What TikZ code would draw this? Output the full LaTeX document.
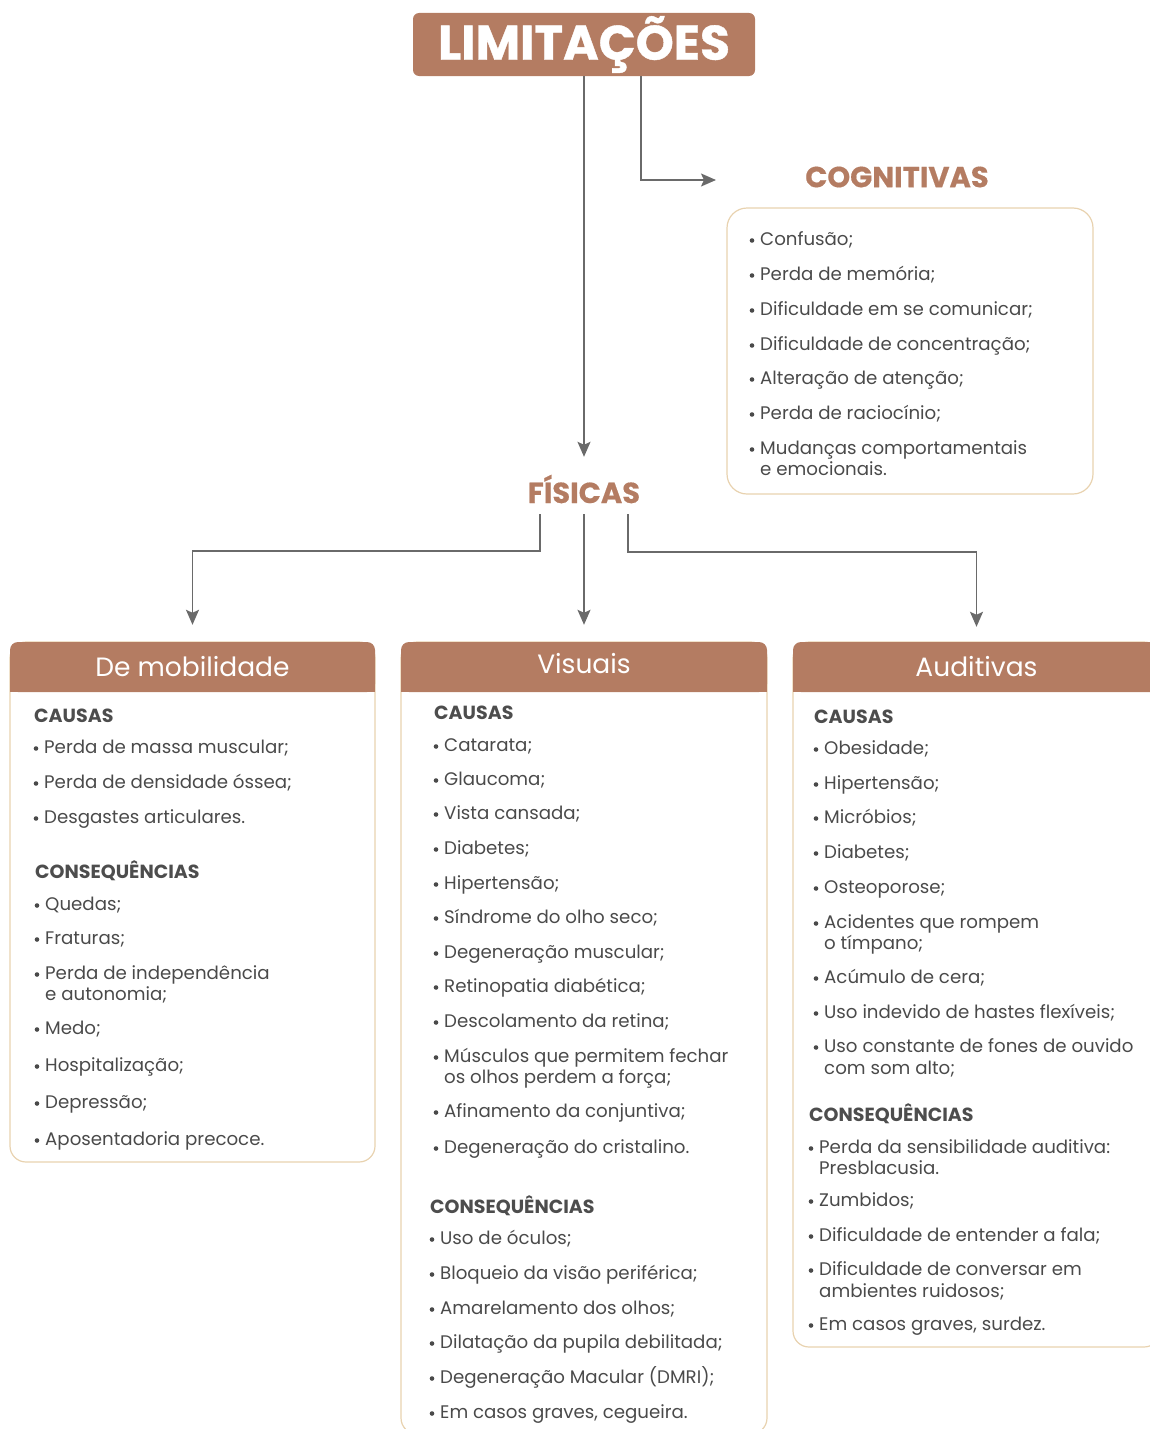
\documentclass[tikz,border=0pt]{standalone}
\usepackage{fontspec}
\setmainfont{Poppins}
\usetikzlibrary{arrows.meta}
\definecolor{brownA}{HTML}{B47C62}
\definecolor{tanA}{HTML}{E8D2AF}
\definecolor{txtA}{HTML}{4A4A4A}
\definecolor{hdA}{HTML}{4D4D4D}
\definecolor{arrA}{HTML}{6A6A6A}
\newcommand\itemlist[3]{%
  \foreach \yy/\itxt/\ibul [count=\ii] in {#3} {
    \node[itm, name=#1\ii] at (#2,\yy+7) {\itxt};
    \ifnum\ibul=1 \fill[txtA] (#2-8,\yy+2.5) circle (2.3pt);\fi
  }}
\begin{document}
\begin{tikzpicture}[x=1pt,y=-1pt,
  itm/.style={anchor=base west, inner sep=0pt, font=\fontsize{18.2}{21}\selectfont, text=txtA},
  hd/.style={anchor=base west, inner sep=0pt, font=\fontsize{19}{21}\selectfont\bfseries, text=hdA},
  conn/.style={draw=arrA, line width=1.6pt, -{Stealth[length=15pt,width=13pt,inset=3pt]}},
  hdr/.style={fill=brownA, rounded corners=8pt, minimum height=50pt, inner sep=0pt, text=white, font=\fontsize{26.5}{30}\selectfont},
  panel/.style={draw=tanA, line width=1.2pt, rounded corners=16pt},
  cat/.style={inner sep=0pt, text=brownA, font=\fontsize{29}{32}\selectfont\bfseries\addfontfeature{FakeBold=0.5}}]
\useasboundingbox (0,0) rectangle (1150,1429);

% title
\node[fill=brownA, rounded corners=6pt, minimum width=342pt, minimum height=63pt, inner sep=0pt,
      text=white, font=\fontsize{48.5}{50}\selectfont\bfseries\addfontfeature{FakeBold=0.8}] (title) at (584,44.5) {LIMITAÇÕES};

% categories
\node[cat] (cog) at (897,177) {COGNITIVAS};
\node[cat, minimum height=50pt] (fis) at (584,489) {FÍSICAS};
\coordinate (cogin) at (716,180);

\draw[conn] (title.south) -- ([yshift=7pt]fis.north);
\draw[conn] ([xshift=57pt]title.south) |- (cogin);

% cognitive box
\draw[panel, rounded corners=20pt] (727,208) rectangle (1093,494);
\itemlist{c}{760}{238/Confusão;/1, 273/Perda de memória;/1, 308/Dificuldade em se comunicar;/1,
  343/Dificuldade de concentração;/1, 377/Alteração de atenção;/1, 412/Perda de raciocínio;/1,
  447/Mudanças comportamentais/1, 468/e emocionais./0}

% panels
\draw[panel] (10,642) rectangle (375,1162);
\draw[panel] (401,642) rectangle (767,1434);
\draw[panel] (793,642) rectangle (1160,1347);
\fill[brownA] (10,668) rectangle (375,692);
\fill[brownA] (401,668) rectangle (767,692);
\fill[brownA] (793,668) rectangle (1160,692);
\node[hdr, minimum width=365pt] (hm) at (192.5,667) {De mobilidade};
\node[hdr, minimum width=366pt, text depth=8pt] (hv) at (584,667) {Visuais};
\node[hdr, minimum width=367pt] (ha) at (976.5,667) {Auditivas};

% connectors from FÍSICAS
\draw[conn] ([xshift=-44pt]fis.south) -- ++(0,37) -| ([yshift=17pt]hm.north);
\draw[conn] (fis.south) -- ([yshift=17pt]hv.north);
\draw[conn] ([xshift=44pt]fis.south) -- ++(0,38) -| ([yshift=15pt]ha.north);

% mobility
\node[hd] (mca) at (34,722) {CAUSAS};
\itemlist{ma}{44}{746/Perda de massa muscular;/1, 781/Perda de densidade óssea;/1, 816/Desgastes articulares./1}
\node[hd] (mco) at (35,878) {CONSEQUÊNCIAS};
\itemlist{mb}{45}{903/Quedas;/1, 937/Fraturas;/1, 972/Perda de independência/1, 993/e autonomia;/0,
  1027/Medo;/1, 1064/Hospitalização;/1, 1101/Depressão;/1, 1138/Aposentadoria precoce./1}

% visual
\node[hd] (vca) at (434,719) {CAUSAS};
\itemlist{va}{444}{744/Catarata;/1, 778/Glaucoma;/1, 812/Vista cansada;/1, 847/Diabetes;/1,
  882/Hipertensão;/1, 916/Síndrome do olho seco;/1, 951/Degeneração muscular;/1,
  985/Retinopatia diabética;/1, 1020/Descolamento da retina;/1, 1055/Músculos que permitem fechar/1,
  1076/os olhos perdem a força;/0, 1110/Afinamento da conjuntiva;/1, 1146/Degeneração do cristalino./1}
\node[hd] (vco) at (430,1213) {CONSEQUÊNCIAS};
\itemlist{vb}{440}{1237/Uso de óculos;/1, 1272/Bloqueio da visão periférica;/1, 1307/Amarelamento dos olhos;/1,
  1341/Dilatação da pupila debilitada;/1, 1376/Degeneração Macular (DMRI);/1, 1411/{Em casos graves, cegueira.}/1}

% auditory
\node[hd] (aca) at (814,723) {CAUSAS};
\itemlist{aa}{824}{747/Obesidade;/1, 782/Hipertensão;/1, 816/Micróbios;/1, 851/Diabetes;/1,
  886/Osteoporose;/1, 921/Acidentes que rompem/1, 942/o tímpano;/0, 976/Acúmulo de cera;/1,
  1011/Uso indevido de hastes flexíveis;/1, 1045/Uso constante de fones de ouvido/1, 1067/com som alto;/0}
\node[hd] (aco) at (809,1121) {CONSEQUÊNCIAS};
\itemlist{ab}{819}{1146/Perda da sensibilidade auditiva:/1, 1167/Presblacusia./0, 1199/Zumbidos;/1,
  1234/Dificuldade de entender a fala;/1, 1268/Dificuldade de conversar em/1, 1290/ambientes ruidosos;/0,
  1323/{Em casos graves, surdez.}/1}
\end{tikzpicture}
\end{document}
